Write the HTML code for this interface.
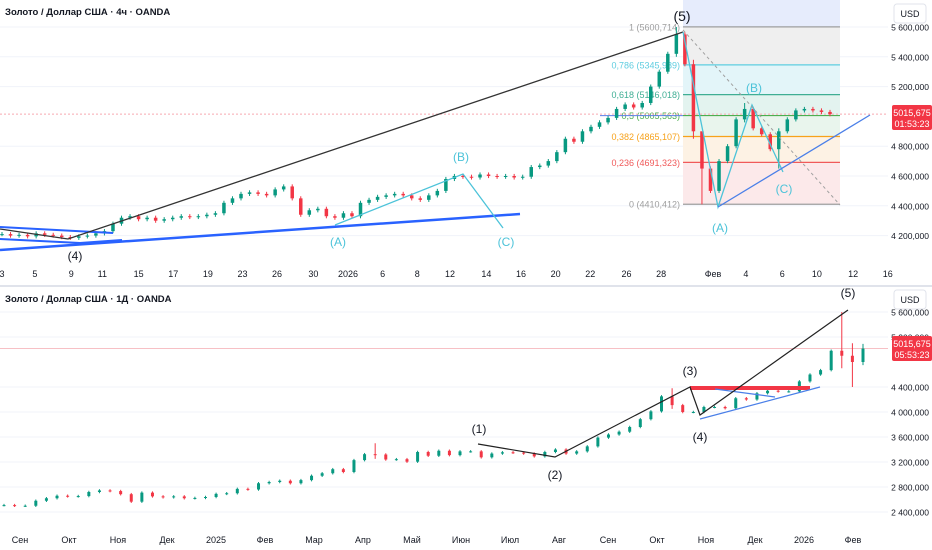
<!DOCTYPE html>
<html><head><meta charset="utf-8">
<style>
html,body{margin:0;padding:0;background:#fff;width:932px;height:550px;overflow:hidden;font-family:"Liberation Sans","DejaVu Sans",sans-serif;}
svg text{font-family:"Liberation Sans","DejaVu Sans",sans-serif;}
</style></head>
<body>
<svg id="c" width="932" height="550" xmlns="http://www.w3.org/2000/svg">
<rect x="0" y="0" width="932" height="550" fill="#fff"/>
<g id="top"></g>
<g id="bot"></g>
</svg>
<script>
// ===== Top chart data (half-day closes, 3 Dec 2025 – 11 Feb 2026) =====
const tCloses = [4210,4200,4205,4195,4215,4205,4200,4190,4185,4195,4200,4215,4230,4280,4320,4330,
4310,4320,4300,4310,4320,4330,4325,4330,4340,4350,4420,4450,4480,4490,4480,4470,4510,4530,
4450,4340,4370,4380,4330,4320,4350,4330,4420,4440,4460,4470,4480,4470,4450,4440,4470,4500,
4580,4600,4595,4590,4610,4600,4595,4600,4590,4595,4660,4670,4700,4760,4850,4830,4900,4930,
4960,4990,5050,5080,5060,5090,5200,5300,5420,5550,5350,4900,4650,4500,4700,4800,4980,5050,
4920,4880,4780,4900,4980,5040,5050,5040,5030,5015];
const tSpikes = [[79,5600,5400],[81,5380,4850],[82,4760,4410],[87,5090,4960],[91,4920,4650]];
const tYTicks = [5600,5400,5200,4800,4600,4400,4200];
const tYTickLabels = ["5 600,000","5 400,000","5 200,000","4 800,000","4 600,000","4 400,000","4 200,000"];
const tXLabels = ["3","5","9","11","15","17","19","23","26","30","2026","6","8","12","14","16","20","22","26","28","Фев","4","6","10","12","16"];
const tXLabelPos = [0,1.9,4,5.8,7.9,9.9,11.9,13.9,15.9,18,20,22,24,25.9,28,30,32,34,36.1,38.1,41.1,43,45.1,47.1,49.2,51.2];
const fibLevels = [1,0.786,0.618,0.5,0.382,0.236,0];
const fibPrices = [5600.714,5345.989,5146.018,5005.563,4865.107,4691.323,4410.412];
const fibLabels = ["1 (5600,714)","0,786 (5345,989)","0,618 (5146,018)","0,5 (5005,563)","0,382 (4865,107)","0,236 (4691,323)","0 (4410,412)"];
// ===== Bottom chart data (weekly closes, Aug 2024 – Feb 2026) =====
const dCloses = [2510,2500,2500,2580,2620,2660,2650,2655,2720,2745,2735,2685,2565,2710,2650,
2635,2650,2620,2625,2640,2690,2700,2770,2760,2860,2880,2900,2860,2910,2980,3020,3085,3040,
3230,3325,3320,3240,3245,3205,3360,3300,3380,3310,3370,3370,3275,3335,3355,3350,3335,3290,
3360,3400,3335,3370,3450,3590,3640,3685,3760,3885,4010,4250,4110,4000,4000,4080,4080,4060,4220,
4200,4300,4340,4330,4330,4490,4600,4670,4980,4900,4800,5015];
const dSpikes = [[35,3500,3250],[63,4380,4050],[79,5600,4700],[80,5100,4400],[81,5090,4750]];
const dYTicks = [5600,5200,4400,4000,3600,3200,2800,2400];
const dYTickLabels = ["5 600,000","5 200,000","4 400,000","4 000,000","3 600,000","3 200,000","2 800,000","2 400,000"];
const dXLabels = ["Сен","Окт","Ноя","Дек","2025","Фев","Мар","Апр","Май","Июн","Июл","Авг","Сен","Окт","Ноя","Дек","2026","Фев"];
const dXMonthIdx = [0,1,2,3,4,5,6,7,8,9,10,11,12,13,14,15,16,17];

const NS="http://www.w3.org/2000/svg";
function mk(parent,tag,attrs,text){const e=document.createElementNS(NS,tag);for(const k in attrs)e.setAttribute(k,attrs[k]);if(text!==undefined)e.textContent=text;parent.appendChild(e);return e;}

// ---------- TOP ----------
const T=document.getElementById('top');
const tY=v=>27+(5600-v)/200*29.8;
const tStep=(830-2)/(tCloses.length-1);
const tX=i=>2+i*tStep;
const tDay=d=>2+d*17.3;
tYTicks.forEach(v=>{const l=mk(T,'line',{x1:0,x2:888,y1:tY(v),y2:tY(v),stroke:'#f0f3fa'});
});
const fx1=683,fx2=840;
const topBand=mk(T,'rect',{x:fx1,y:0,width:fx2-fx1,height:tY(fibPrices[0]),fill:'#e6ecfc'});

const fibFill=['#efefef','#e3f5f9','#e3f3ef','#e9f5ed','#fdf2e4','#fce9ea'];
const fibCol=['#9e9e9e','#5fcde0','#3fae94','#4caf50','#f7a21b','#f05a5a','#9e9e9e'];
for(let k=0;k<fibPrices.length-1;k++){
 const r=mk(T,'rect',{x:fx1,y:tY(fibPrices[k]),width:fx2-fx1,height:tY(fibPrices[k+1])-tY(fibPrices[k]),fill:fibFill[k]});
 
}
fibPrices.forEach((p,k)=>{
 const l=mk(T,'line',{x1:fx1,x2:fx2,y1:tY(p),y2:tY(p),stroke:fibCol[k],'stroke-width':1.2});
 
 const t=mk(T,'text',{x:fx1-3,y:tY(p)+3.5,'text-anchor':'end','font-size':9,fill:fibCol[k]},fibLabels[k]);
 
});
const tpl=mk(T,'line',{x1:0,x2:888,y1:tY(5015.675),y2:tY(5015.675),stroke:'#f7a9b0','stroke-dasharray':'2,2'});

const halfLine=mk(T,'line',{x1:600,x2:fx1,y1:tY(5005.563),y2:tY(5005.563),stroke:'#5b7fe8'});

function candles(G,closes,spikes,X,Y,w,wick,name){
 closes.forEach((c,i)=>{
  const o=i===0?c:closes[i-1];
  let hi=Math.max(o,c)+wick, lo=Math.min(o,c)-wick;
  spikes.forEach(s=>{if(s[0]===i){hi=s[1];lo=s[2];}});
  const col=c>=o?'#089981':'#f23645';
  const g=mk(G,'g',{});
  
  
  mk(g,'line',{x1:X(i),x2:X(i),y1:Y(hi),y2:Y(lo),stroke:col,'stroke-width':1});
  const y1=Y(Math.max(o,c)),y2=Y(Math.min(o,c));
  mk(g,'rect',{x:X(i)-w/2,y:y1,width:w,height:Math.max(1,y2-y1),fill:col});
 });
}
candles(T,tCloses,tSpikes,tX,tY,3.5,14,'candle-4h');
function line(G,pts,col,w,name,dash){const p=mk(G,'polyline',{points:pts.map(q=>q.join(',')).join(' '),fill:'none',stroke:col,'stroke-width':w});
 if(dash)p.setAttribute('stroke-dasharray',dash);
 return p;}
line(T,[[0,250],[520,214]],'#2962ff',2.5,'trendline-support');
line(T,[[0,227],[113,233]],'#2962ff',2,'channel-upper');
line(T,[[0,239],[80,243],[122,240]],'#2962ff',2,'channel-lower');
line(T,[[0,229],[68,239],[683,32]],'#333',1.3,'wave-5-line');
line(T,[[335,225],[463,174],[503,228]],'#4cc3d9',1.3,'abc-correction-left');
line(T,[[683,32],[718,207],[752,105],[783,172]],'#4cc3d9',1.3,'abc-correction-right');
line(T,[[718,207],[870,115]],'#4a7fe8',1.3,'support-line-right');
line(T,[[683,30],[840,205]],'#a0a0a0',1,'fib-trend-line','3,3');
function label(G,x,y,s,col,size,name,anchor){const t=mk(G,'text',{x:x,y:y,'text-anchor':anchor||'middle','font-size':size,fill:col},s);
 return t;}
label(T,682,21,'(5)','#131722',14,'wave-label-5');
label(T,75,260,'(4)','#131722',12,'wave-label-4');
label(T,338,246,'(A)','#4cc3d9',12,'wave-label-a');
label(T,461,161,'(B)','#4cc3d9',12,'wave-label-b');
label(T,506,246,'(C)','#4cc3d9',12,'wave-label-c');
label(T,720,232,'(A)','#4cc3d9',12,'wave-label-a2');
label(T,754,92,'(B)','#4cc3d9',12,'wave-label-b2');
label(T,784,193,'(C)','#4cc3d9',12,'wave-label-c2');
tYTicks.forEach((v,k)=>label(T,929,tY(v)+3.5,tYTickLabels[k],'#131722',8.5,'y-tick-label','end'));
tXLabels.forEach((s,k)=>label(T,tDay(tXLabelPos[k]),277,s,'#131722',9,'x-tick-label'));
label(T,5,15,'Золото / Доллар США · 4ч · OANDA','#131722',9.5,'chart-title-4h','start').setAttribute('font-weight','bold');
const ub=mk(T,'rect',{x:894,y:4,width:32,height:19,rx:3,fill:'#fff',stroke:'#e0e3eb'});

label(T,910,17,'USD','#131722',9,'currency-label');
const pb=mk(T,'rect',{x:892,y:105,width:40,height:25,rx:2,fill:'#f23645'});

label(T,912,116,'5015,675','#fff',9,'price-badge-value');
label(T,912,127,'01:53:23','#fff',9,'price-badge-timer');

const sep=mk(document.getElementById('c'),'line',{x1:0,x2:932,y1:286,y2:286,stroke:'#e0e3eb','stroke-width':2});


// ---------- BOTTOM ----------
const B=document.getElementById('bot');
const dY=v=>387-(v-4400)/400*25;
const dStep=(863-4)/(dCloses.length-1);
const dX=i=>4+i*dStep;
const dM=m=>20+m*49;
dYTicks.forEach(v=>{const l=mk(B,'line',{x1:0,x2:888,y1:dY(v),y2:dY(v),stroke:'#f0f3fa'});
});
const bpl=mk(B,'line',{x1:0,x2:888,y1:dY(5015.675),y2:dY(5015.675),stroke:'#f7c0c5'});

candles(B,dCloses,dSpikes,dX,dY,3,20,'candle-1d');
line(B,[[690,388],[810,388]],'#f23645',4,'resistance-zone-line');
line(B,[[700,419],[820,387]],'#4a7fe8',1.2,'triangle-lower');
line(B,[[715,389],[775,397]],'#4a7fe8',1.2,'triangle-upper');
line(B,[[478,444],[555,457],[690,387],[700,415],[848,310]],'#222',1.2,'elliott-wave-line');
label(B,479,433,'(1)','#131722',12,'wave-label-1');
label(B,555,479,'(2)','#131722',12,'wave-label-2');
label(B,690,375,'(3)','#131722',12,'wave-label-3');
label(B,700,441,'(4)','#131722',12,'wave-label-4d');
label(B,848,297,'(5)','#131722',12,'wave-label-5d');
dYTicks.forEach((v,k)=>label(B,929,dY(v)+3.5,dYTickLabels[k],'#131722',8.5,'y-tick-label-daily','end'));
dXLabels.forEach((s,k)=>label(B,dM(dXMonthIdx[k]),543,s,'#131722',9,'x-tick-label-daily'));
label(B,5,302,'Золото / Доллар США · 1Д · OANDA','#131722',9.5,'chart-title-1d','start').setAttribute('font-weight','bold');
const ub2=mk(B,'rect',{x:894,y:290,width:32,height:19,rx:3,fill:'#fff',stroke:'#e0e3eb'});

label(B,910,303,'USD','#131722',9,'currency-label-daily');
const pb2=mk(B,'rect',{x:892,y:336,width:40,height:25,rx:2,fill:'#f23645'});

label(B,912,347,'5015,675','#fff',9,'price-badge-value-daily');
label(B,912,358,'05:53:23','#fff',9,'price-badge-timer-daily');
</script>
</body></html>
